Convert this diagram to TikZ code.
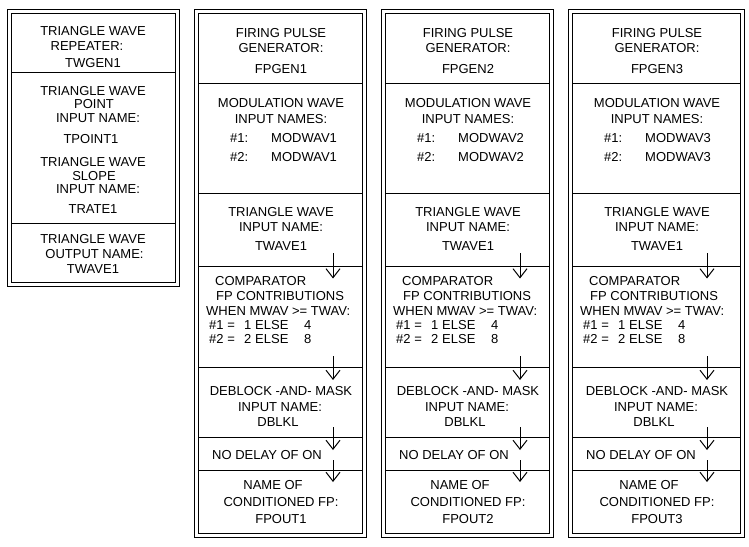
\documentclass[tikz,border=0pt]{standalone}
\usepackage{fontspec}
\setmainfont{Liberation Sans}
\usetikzlibrary{arrows.meta}

\begin{document}
\begin{tikzpicture}[x=1pt, y=-1pt,
    dframe/.style={draw, double, double distance=3pt, line width=1pt},
    divider/.style={line width=1pt},
    txt/.style={inner sep=0pt, anchor=base, font=\fontsize{13}{15}\selectfont},
    ltxt/.style={txt, anchor=base west},
    flow/.style={line width=1pt, -{Straight Barb[length=9pt, width=14pt, line width=1pt]}}]
  \useasboundingbox (0,0) rectangle (749,546);
  % triangle wave repeater
  \draw[dframe] (9,11.5) rectangle (177,284);
  \draw[divider] (11,72.5) -- (175,72.5) (11,223) -- (175,223);
  \node[txt] (tw-l1) at (93,35) {TRIANGLE WAVE};
  \node[txt] (tw-l2) at (87,50) {REPEATER:};
  \node[txt] (tw-name) at (93,67.5) {TWGEN1};
  \node[txt] (tp-l1) at (93,95) {TRIANGLE WAVE};
  \node[txt] (tp-l2) at (94,108) {POINT};
  \node[txt] (tp-l3) at (98,122) {INPUT NAME:};
  \node[txt] (tp-name) at (91,143) {TPOINT1};
  \node[txt] (tr-l1) at (93,166) {TRIANGLE WAVE};
  \node[txt] (tr-l2) at (94,180) {SLOPE};
  \node[txt] (tr-l3) at (98,193.5) {INPUT NAME:};
  \node[txt] (tr-name) at (93,213) {TRATE1};
  \node[txt] (to-l1) at (93,243) {TRIANGLE WAVE};
  \node[txt] (to-l2) at (94.5,258) {OUTPUT NAME:};
  \node[txt] (to-name) at (93,273) {TWAVE1};
  % firing pulse generators
  \foreach \i/\lx/\rx in {1/194/366, 2/381/553, 3/568/744} {
    \draw[dframe] (\lx+2,11.5) rectangle (\rx-2,535);
    \foreach \y in {83,193.5,266.5,367.5,437.5,470.5}
      \draw[divider] (\lx+4,\y) -- (\rx-4,\y);
    \pgfmathsetmacro{\cx}{(\lx+\rx)/2+1}
    \node[txt] (fp\i-l1) at (\cx,37.5) {FIRING PULSE};
    \node[txt] (fp\i-l2) at (\cx,52.5) {GENERATOR:};
    \node[txt] (fp\i-name) at (\cx,73) {FPGEN\i};
    \node[txt] (mw\i-l1) at (\cx,107) {MODULATION WAVE};
    \node[txt] (mw\i-l2) at (\cx,123) {INPUT NAMES:};
    \node[ltxt] (mw\i-n1) at (\lx+36,142) {\makebox[41pt][l]{\#1:}MODWAV\i};
    \node[ltxt] (mw\i-n2) at (\lx+36,161) {\makebox[41pt][l]{\#2:}MODWAV\i};
    \node[txt] (ti\i-l1) at (\cx,216.5) {TRIANGLE WAVE};
    \node[txt] (ti\i-l2) at (\cx,231.5) {INPUT NAME:};
    \node[txt] (ti\i-name) at (\cx,250) {TWAVE1};
    \node[ltxt] (cmp\i-l1) at (\lx+21,285.5) {COMPARATOR};
    \node[ltxt] (cmp\i-l2) at (\lx+22,300.5) {FP CONTRIBUTIONS};
    \node[ltxt] (cmp\i-l3) at (\lx+12,315.5) {WHEN MWAV >= TWAV:};
    \node[ltxt] (cmp\i-c1) at (\lx+15,329.5) {\makebox[35pt][l]{\#1 =}\makebox[11pt][l]{1}\makebox[49pt][l]{ELSE}4};
    \node[ltxt] (cmp\i-c2) at (\lx+15,343) {\makebox[35pt][l]{\#2 =}\makebox[11pt][l]{2}\makebox[49pt][l]{ELSE}8};
    \node[txt] (db\i-l1) at (\cx,395.5) {DEBLOCK -AND- MASK};
    \node[txt] (db\i-l2) at (\cx-1,411) {INPUT NAME:};
    \node[txt] (db\i-name) at (\cx-3,426.5) {DBLKL};
    \node[ltxt] (nd\i) at (\lx+18,459.5) {NO DELAY OF ON};
    \node[txt] (out\i-l1) at (\cx-8,489.5) {NAME OF};
    \node[txt] (out\i-l2) at (\cx,506.5) {CONDITIONED FP:};
    \node[txt] (out\i-name) at (\cx,523) {FPOUT\i};
    % arrows across the dividers
    \foreach \j/\ya/\yb in {1/253/278.5, 2/356/380, 3/427/450, 4/460/482} {
      \coordinate (fp\i-s\j) at (\lx+139,\ya);
      \coordinate (fp\i-e\j) at (\lx+139,\yb);
      \draw[flow] (fp\i-s\j) -- (fp\i-e\j);
    }
  }
\end{tikzpicture}
\end{document}
